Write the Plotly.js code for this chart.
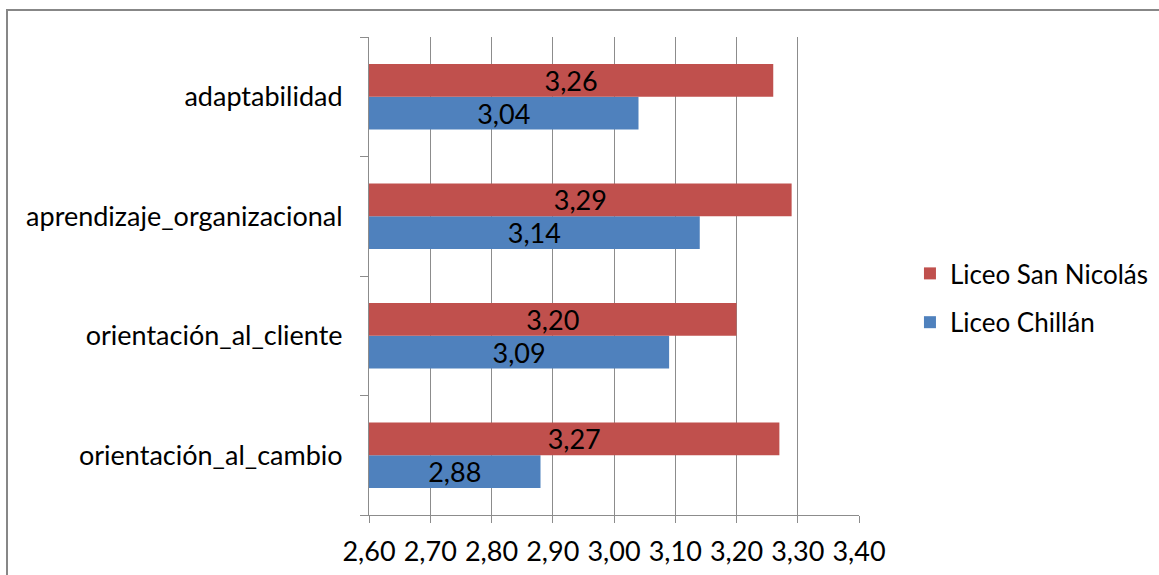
<!DOCTYPE html>
<html>
<head>
<meta charset="utf-8">
<script src="https://cdn.plot.ly/plotly-3.0.1.min.js"></script>
<style>
  html, body { margin: 0; padding: 0; background: #fff; }
  #wrap { position: relative; width: 1159px; height: 575px; overflow: hidden; }
  #chart { position: absolute; left: 0; top: 0; width: 1159px; height: 575px; }
  .frame-top { position: absolute; left: 6px; top: 9px; width: 1153px; height: 2px; background: #878787; }
  .frame-left { position: absolute; left: 6px; top: 9px; width: 2px; height: 566px; background: #878787; }
</style>
</head>
<body>
<div id="wrap">
  <div id="chart"></div>
  <div class="frame-top"></div>
  <div class="frame-left"></div>
</div>
<script>
// Competency categories, listed bottom to top as Plotly stacks a category axis
const categories = [
  'orientación_al_cambio',
  'orientación_al_cliente',
  'aprendizaje_organizacional',
  'adaptabilidad'
];
const chillan = [2.88, 3.09, 3.14, 3.04];
const sanNicolas = [3.27, 3.20, 3.29, 3.26];
const xTicks = [2.6, 2.7, 2.8, 2.9, 3.0, 3.1, 3.2, 3.3, 3.4];

// Bars start at the left edge of the value axis so labels centre on the visible bar
const AXIS_MIN = 2.6;
const AXIS_MAX = 3.4;

const FONT = 'Lato, "Open Sans", sans-serif';
const FS = 27;

function barTrace(name, values, color, rank) {
  return {
    type: 'bar',
    orientation: 'h',
    name: name,
    y: categories,
    base: AXIS_MIN,
    x: values.map(v => v - AXIS_MIN),
    customdata: values,
    texttemplate: '%{customdata:.2f}',
    textposition: 'inside',
    insidetextanchor: 'middle',
    textangle: 0,
    constraintext: 'none',
    textfont: { family: FONT, size: FS, color: '#000' },
    legendgroup: name,
    legendrank: rank,
    marker: { color: color },
    hoverinfo: 'skip'
  };
}

// Chillán is drawn first (lower bar of each pair); San Nicolás heads the legend
const traces = [
  barTrace('Liceo Chillán', chillan, '#4F81BD', 2),
  barTrace('Liceo San Nicolás', sanNicolas, '#C0504D', 1)
];

const layout = {
  width: 1159,
  height: 575,
  margin: { l: 369, r: 300, t: 37, b: 60, autoexpand: false },
  paper_bgcolor: '#fff',
  plot_bgcolor: '#fff',
  separators: ',.',
  barmode: 'group',
  bargap: 0.45,
  bargroupgap: 0,
  font: { family: FONT, size: FS, color: '#000' },
  xaxis: {
    range: [AXIS_MIN, AXIS_MAX],
    tickvals: xTicks,
    tickformat: '.2f',
    showgrid: true,
    gridcolor: '#8c8c8c',
    gridwidth: 1,
    showline: true,
    linecolor: '#8c8c8c',
    linewidth: 1,
    ticks: 'outside',
    ticklen: 7,
    tickcolor: '#8c8c8c',
    ticklabelstandoff: 6,
    zeroline: false,
    fixedrange: true,
    automargin: false,
    tickfont: { family: FONT, size: FS, color: '#000' }
  },
  yaxis: {
    type: 'category',
    showline: true,
    linecolor: '#8c8c8c',
    linewidth: 1,
    ticks: 'outside',
    tickson: 'boundaries',
    ticklen: 8,
    tickcolor: '#8c8c8c',
    ticklabelstandoff: 20,
    showgrid: false,
    fixedrange: true,
    automargin: false,
    tickfont: { family: FONT, size: FS, color: '#000' }
  },
  showlegend: true,
  legend: {
    x: 1.104,
    xanchor: 'left',
    y: 0.454,
    yanchor: 'middle',
    traceorder: 'grouped',
    tracegroupgap: 12,
    font: { family: FONT, size: 26, color: '#000' },
    bgcolor: 'rgba(0,0,0,0)'
  }
};

Plotly.newPlot('chart', traces, layout, { staticPlot: true, displayModeBar: false });
</script>
</body>
</html>
